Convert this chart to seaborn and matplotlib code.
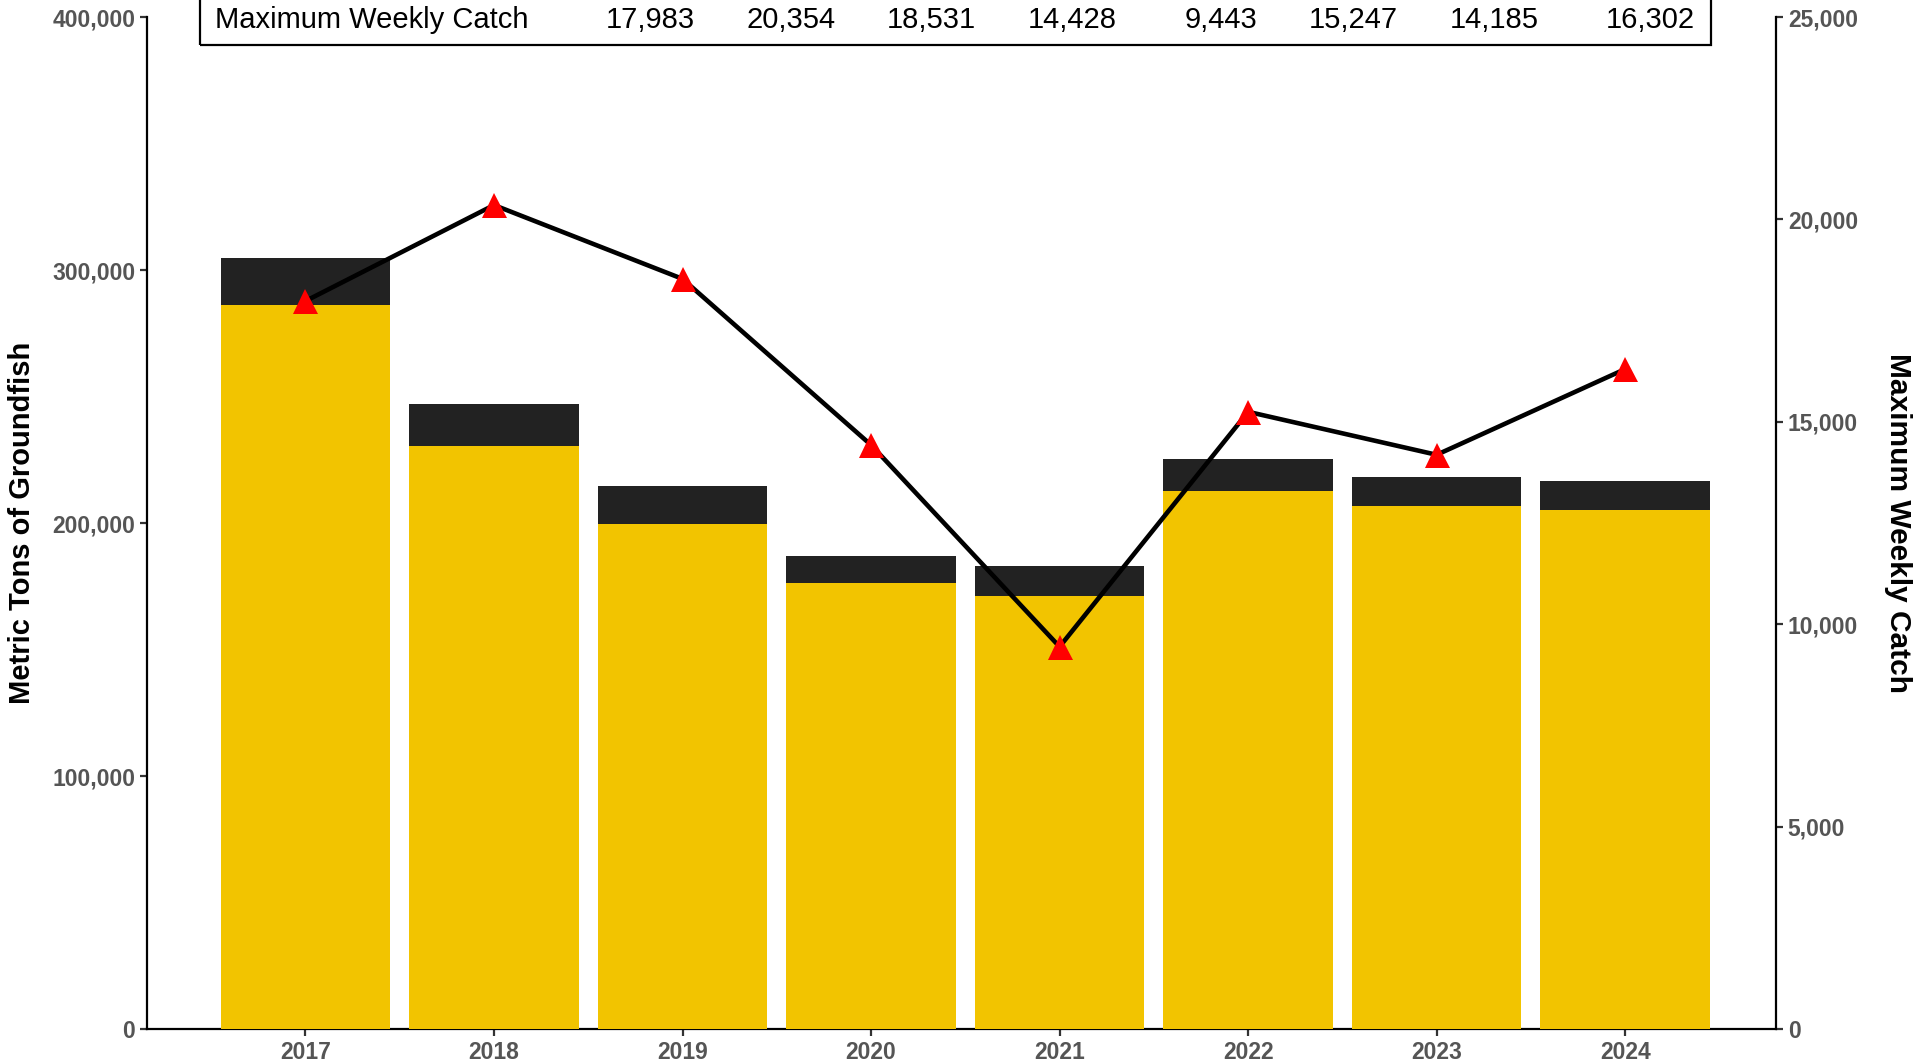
import numpy as np
import matplotlib
matplotlib.use("Agg")
import matplotlib.pyplot as plt
import seaborn as sns
from matplotlib.ticker import FuncFormatter

# =========================
# DATA
# =========================
years = ["2017", "2018", "2019", "2020", "2021", "2022", "2023", "2024"]
tons_total = [304600, 247000, 214500, 187000, 183000, 225200, 218000, 216500]
tons_main = [286200, 230500, 199500, 176300, 171000, 212600, 206800, 205300]
max_weekly_catch = [17983, 20354, 18531, 14428, 9443, 15247, 14185, 16302]
table_label = "Maximum Weekly Catch"

YELLOW = "#F2C400"
DARK = "#222222"
TICK_GRAY = "#555555"

# =========================
# STYLE
# =========================
sns.set_style("ticks")
plt.rcParams["font.family"] = ["Liberation Sans", "DejaVu Sans"]
plt.rcParams["text.color"] = "black"
plt.rcParams["axes.labelcolor"] = "black"

fig = plt.figure(figsize=(19.2, 10.64), dpi=100)
ax = fig.add_axes([0.0766, 0.0329, 0.8484, 0.9511])

# =========================
# BARS (stacked: total dark, main yellow on top)
# =========================
sns.barplot(x=years, y=tons_total, color=DARK, width=0.9, saturation=1, ax=ax, zorder=2)
sns.barplot(x=years, y=tons_main, color=YELLOW, width=0.9, saturation=1, ax=ax, zorder=3)
for p in ax.patches:
    p.set_linewidth(0)

ax.set_xlim(-0.84, 7.8)
ax.set_ylim(0, 400000)
ax.set_yticks(np.arange(0, 400001, 100000))
ax.yaxis.set_major_formatter(FuncFormatter(lambda v, _: f"{int(v):,}"))
ax.set_xlabel("")
ax.set_ylabel("Metric Tons of Groundfish", fontsize=21, fontweight="bold", va="center")
ax.yaxis.set_label_coords(-0.0767, 0.5)

# =========================
# LINE ON SECONDARY AXIS
# =========================
ax2 = ax.twinx()
sns.lineplot(x=np.arange(len(years)), y=max_weekly_catch, color="black", linewidth=3.3,
             ax=ax2, zorder=4)
ax2.plot(np.arange(len(years)), max_weekly_catch, linestyle="none", marker="^",
         markersize=18, color="red", markeredgewidth=0, zorder=5)
ax2.set_ylim(0, 25000)
ax2.set_yticks(np.arange(0, 25001, 5000))
ax2.yaxis.set_major_formatter(FuncFormatter(lambda v, _: f"{int(v):,}"))
ax2.set_ylabel("Maximum Weekly Catch", fontsize=21.5, fontweight="bold", rotation=-90,
               va="center")
ax2.yaxis.set_label_coords(1.0749, 0.5)

for a in (ax, ax2):
    for s in a.spines.values():
        s.set_linewidth(1.6)
        s.set_color("black")
    a.spines["top"].set_visible(False)
    a.tick_params(axis="both", labelsize=16.5, labelcolor=TICK_GRAY, width=1.6,
                  length=5, color="#333333")
    for lbl in a.get_xticklabels() + a.get_yticklabels():
        lbl.set_fontweight("bold")
ax2.spines["left"].set_visible(False)
ax2.spines["bottom"].set_visible(False)
ax.spines["right"].set_visible(False)

# =========================
# TABLE AT TOP
# =========================
cells = [[table_label] + [f"{v:,}" for v in max_weekly_catch]]
col_w = [0.190] + [0.0725] * 7 + [0.0815]
tbl = ax2.table(cellText=cells, colWidths=col_w, cellLoc="right",
                bbox=[0.0325, 0.972, 0.9275, 0.05])
tbl.auto_set_font_size(False)
tbl.set_fontsize(21)
ncol = len(cells[0])
for (r, c), cell in tbl.get_celld().items():
    cell.set_linewidth(1.6)
    cell.set_edgecolor("black")
    cell.set_facecolor("white")
    cell.get_text().set_color("black")
    if c == 0:
        cell.visible_edges = "BLT"
        cell._loc = "left"
        cell.get_text().set_ha("left")
        cell.PAD = 0.04
    elif c == ncol - 1:
        cell.visible_edges = "BRT"
    else:
        cell.visible_edges = "BT"
tbl.set_zorder(10)

fig.savefig("out.png", dpi=100)
